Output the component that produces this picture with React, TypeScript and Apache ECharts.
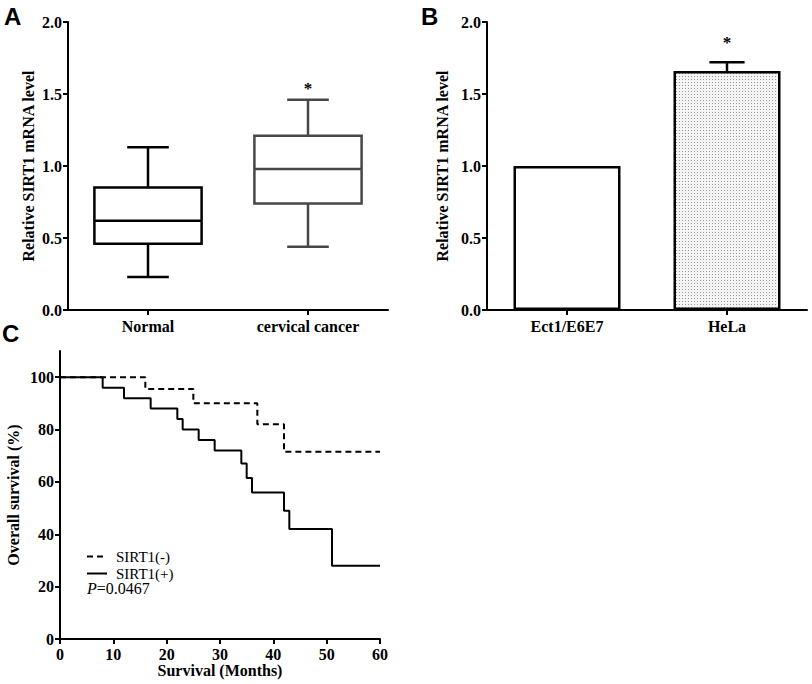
import React, { useEffect, useRef } from 'react';
import * as echarts from 'echarts';

// Panel A – box plot
const boxCategories = ['Normal', 'cervical cancer'];
const boxMin = [0.23, 0.44];
const boxQ1 = [0.46, 0.74];
const boxMedian = [0.62, 0.98];
const boxQ3 = [0.85, 1.21];
const boxMax = [1.13, 1.46];
const boxStar: (number | null)[] = [null, 1.535];

// Panel B – bar chart
const barCategories = ['Ect1/E6E7', 'HeLa'];
const barMeans = [1.0, 1.66];
const barErrors = [0, 0.06];
const barStar: (number | null)[] = [null, 1.86];

const yTicksAB = [0, 0.5, 1.0, 1.5, 2.0];

// Panel C – Kaplan-Meier
const survivalTicksX = [0, 10, 20, 30, 40, 50, 60];
const survivalTicksY = [0, 20, 40, 60, 80, 100];
const negMonths = [0, 16, 25, 37, 42, 60];
const negSurvival = [100, 95.5, 90, 82, 71.5, 71.5];
const posMonths = [0, 8, 12, 17, 22, 23, 26, 29, 34, 35, 36, 42, 43, 51, 60];
const posSurvival = [100, 96, 92, 88, 84, 80, 76, 72, 67, 61.5, 56, 49, 42, 28, 28];
const seriesNames = ['SIRT1(-)', 'SIRT1(+)'];
const pValue = '0.0467';

const SERIF = '"Liberation Serif", "Times New Roman", serif';
const SANS = '"Liberation Sans", Arial, sans-serif';

function makePattern() {
  const c = document.createElement('canvas');
  c.width = 3;
  c.height = 3;
  const ctx = c.getContext('2d');
  if (ctx) {
    ctx.fillStyle = '#f4f4f4';
    ctx.fillRect(0, 0, 3, 3);
    ctx.fillStyle = '#9a9a9a';
    ctx.fillRect(1, 1, 1, 1);
  }
  return c;
}

export default function App() {
  const ref = useRef<HTMLDivElement>(null);
  useEffect(() => {
    if (!ref.current) return;
    const chart = echarts.init(ref.current, undefined, { renderer: 'svg' });

    const axisLine = { show: true, lineStyle: { color: '#000', width: 2 } };
    const axisTick = { show: true, length: 5, lineStyle: { color: '#000', width: 2 } };
    const tickLabel = { color: '#000', fontFamily: SERIF, fontWeight: 'bold' as const, fontSize: 16 };

    let pattern: any = '#e6e6e6';
    try {
      pattern = { image: makePattern(), repeat: 'repeat' };
    } catch (e) {
      pattern = '#e6e6e6';
    }

    const option: any = {
      animation: false,
      backgroundColor: '#fff',
      grid: [
        { left: 68, top: 22, width: 320, height: 288 },
        { left: 487, top: 22, width: 320, height: 288 },
        { left: 60, top: 351, width: 320, height: 288 },
      ],
      xAxis: [
        {
          gridIndex: 0,
          type: 'category',
          data: boxCategories,
          axisLine,
          axisTick: { ...axisTick, alignWithLabel: true },
          axisLabel: { ...tickLabel, margin: 8 },
        },
        {
          gridIndex: 1,
          type: 'category',
          data: barCategories,
          axisLine,
          axisTick: { ...axisTick, alignWithLabel: true },
          axisLabel: { ...tickLabel, margin: 8 },
        },
        {
          gridIndex: 2,
          type: 'value',
          min: 0,
          max: 60,
          interval: 10,
          axisLine,
          axisTick: { ...axisTick, customValues: survivalTicksX },
          axisLabel: { ...tickLabel, margin: 7, customValues: survivalTicksX },
          splitLine: { show: false },
          name: 'Survival (Months)',
          nameLocation: 'middle',
          nameGap: 23,
          nameTextStyle: { ...tickLabel },
        },
      ],
      yAxis: [
        {
          gridIndex: 0,
          type: 'value',
          min: 0,
          max: 2,
          interval: 0.5,
          axisLine,
          axisTick: { ...axisTick, customValues: yTicksAB },
          axisLabel: { ...tickLabel, margin: 6, customValues: yTicksAB, formatter: (v: number) => v.toFixed(1) },
          splitLine: { show: false },
          name: 'Relative SIRT1 mRNA level',
          nameLocation: 'middle',
          nameRotate: 90,
          nameGap: 32,
          nameTextStyle: { ...tickLabel },
        },
        {
          gridIndex: 1,
          type: 'value',
          min: 0,
          max: 2,
          interval: 0.5,
          axisLine,
          axisTick: { ...axisTick, customValues: yTicksAB },
          axisLabel: { ...tickLabel, margin: 6, customValues: yTicksAB, formatter: (v: number) => v.toFixed(1) },
          splitLine: { show: false },
          name: 'Relative SIRT1 mRNA level',
          nameLocation: 'middle',
          nameRotate: 90,
          nameGap: 37,
          nameTextStyle: { ...tickLabel },
        },
        {
          gridIndex: 2,
          type: 'value',
          min: 0,
          max: 110,
          interval: 10,
          axisLine,
          axisTick: { ...axisTick, customValues: survivalTicksY },
          axisLabel: { ...tickLabel, margin: 6, customValues: survivalTicksY },
          splitLine: { show: false },
          name: 'Overall survival (%)',
          nameLocation: 'middle',
          nameRotate: 90,
          nameGap: 39,
          nameTextStyle: { ...tickLabel },
        },
      ],
      legend: {
        data: seriesNames,
        orient: 'vertical',
        left: 86,
        top: 549,
        padding: 0,
        itemWidth: 20,
        itemHeight: 10,
        itemGap: 2,
        itemStyle: { opacity: 0, color: 'transparent', borderWidth: 0 },
        textStyle: { fontFamily: SERIF, fontSize: 15, color: '#000', padding: [0, 0, 0, 4] },
      },
      graphic: [
        { type: 'text', left: 4, top: 4, style: { text: 'A', font: `bold 24px ${SANS}`, fill: '#000' } },
        { type: 'text', left: 421, top: 4, style: { text: 'B', font: `bold 24px ${SANS}`, fill: '#000' } },
        { type: 'text', left: 2, top: 321, style: { text: 'C', font: `bold 24px ${SANS}`, fill: '#000' } },
        {
          type: 'text',
          left: 87,
          top: 580,
          style: {
            text: '{i|P}=' + pValue,
            fontFamily: SERIF,
            fontSize: 16,
            fill: '#000',
            rich: { i: { fontStyle: 'italic', fontFamily: SERIF, fontSize: 16, fill: '#000' } },
          },
        },
      ],
      series: [
        {
          type: 'custom',
          xAxisIndex: 0,
          yAxisIndex: 0,
          data: boxCategories.map((_, i) => [i, boxMin[i], boxQ1[i], boxMedian[i], boxQ3[i], boxMax[i], boxStar[i] ?? NaN]),
          encode: { x: 0, y: [1, 2, 3, 4, 5] },
          renderItem: (params: any, api: any) => {
            const i = api.value(0);
            const band = api.size([1, 0])[0];
            const bw = band * 0.67;
            const capW = band * 0.26;
            const cx = api.coord([i, 0])[0];
            const y = (v: number) => api.coord([i, v])[1];
            const color = i === 0 ? '#000' : '#474747';
            const st = { stroke: color, lineWidth: 2.5, fill: 'none' };
            const children: any[] = [
              { type: 'line', shape: { x1: cx, y1: y(api.value(4)), x2: cx, y2: y(api.value(5)) }, style: st },
              { type: 'line', shape: { x1: cx, y1: y(api.value(2)), x2: cx, y2: y(api.value(1)) }, style: st },
              { type: 'line', shape: { x1: cx - capW / 2, y1: y(api.value(5)), x2: cx + capW / 2, y2: y(api.value(5)) }, style: st },
              { type: 'line', shape: { x1: cx - capW / 2, y1: y(api.value(1)), x2: cx + capW / 2, y2: y(api.value(1)) }, style: st },
              {
                type: 'rect',
                shape: { x: cx - bw / 2, y: y(api.value(4)), width: bw, height: y(api.value(2)) - y(api.value(4)) },
                style: { stroke: color, lineWidth: 2.5, fill: '#fff' },
              },
              { type: 'line', shape: { x1: cx - bw / 2, y1: y(api.value(3)), x2: cx + bw / 2, y2: y(api.value(3)) }, style: st },
            ];
            const star = api.value(6);
            if (!isNaN(star)) {
              children.push({
                type: 'text',
                x: cx,
                y: y(star),
                style: { text: '*', font: `bold 17px ${SERIF}`, fill: '#000', align: 'center', verticalAlign: 'middle' },
              });
            }
            return { type: 'group', children };
          },
        },
        {
          type: 'bar',
          xAxisIndex: 1,
          yAxisIndex: 1,
          barWidth: 107,
          data: barMeans.map((v, i) => ({
            value: v,
            itemStyle: { color: i === 0 ? '#fff' : pattern, borderColor: '#000', borderWidth: 2.5 },
          })),
        },
        {
          type: 'custom',
          xAxisIndex: 1,
          yAxisIndex: 1,
          z: 5,
          data: barCategories.map((_, i) => [i, barMeans[i], barErrors[i], barStar[i] ?? NaN]),
          encode: { x: 0, y: 1 },
          renderItem: (params: any, api: any) => {
            const i = api.value(0);
            const mean = api.value(1);
            const err = api.value(2);
            const cx = api.coord([i, 0])[0];
            const band = api.size([1, 0])[0];
            const capW = band * 0.22;
            const y = (v: number) => api.coord([i, v])[1];
            const st = { stroke: '#000', lineWidth: 2.5, fill: 'none' };
            const children: any[] = [];
            if (err > 0) {
              children.push({ type: 'line', shape: { x1: cx, y1: y(mean), x2: cx, y2: y(mean + err) }, style: st });
              children.push({ type: 'line', shape: { x1: cx - capW / 2, y1: y(mean + err), x2: cx + capW / 2, y2: y(mean + err) }, style: st });
            }
            const star = api.value(3);
            if (!isNaN(star)) {
              children.push({
                type: 'text',
                x: cx,
                y: y(star),
                style: { text: '*', font: `bold 17px ${SERIF}`, fill: '#000', align: 'center', verticalAlign: 'middle' },
              });
            }
            return { type: 'group', children };
          },
        },
        {
          name: seriesNames[0],
          type: 'line',
          xAxisIndex: 2,
          yAxisIndex: 2,
          step: 'end',
          symbol: 'none',
          data: negMonths.map((m, i) => [m, negSurvival[i]]),
          lineStyle: { color: '#000', width: 2, type: [6, 4] },
          itemStyle: { color: '#000' },
        },
        {
          name: seriesNames[1],
          type: 'line',
          xAxisIndex: 2,
          yAxisIndex: 2,
          step: 'end',
          symbol: 'none',
          data: posMonths.map((m, i) => [m, posSurvival[i]]),
          lineStyle: { color: '#000', width: 2, type: 'solid' },
          itemStyle: { color: '#000' },
        },
      ],
    };
    chart.setOption(option);
    return () => chart.dispose();
  }, []);
  return (
    <div
      ref={ref}
      style={{ position: 'absolute', left: 0, top: 0, width: 812, height: 684, background: '#fff' }}
    />
  );
}
